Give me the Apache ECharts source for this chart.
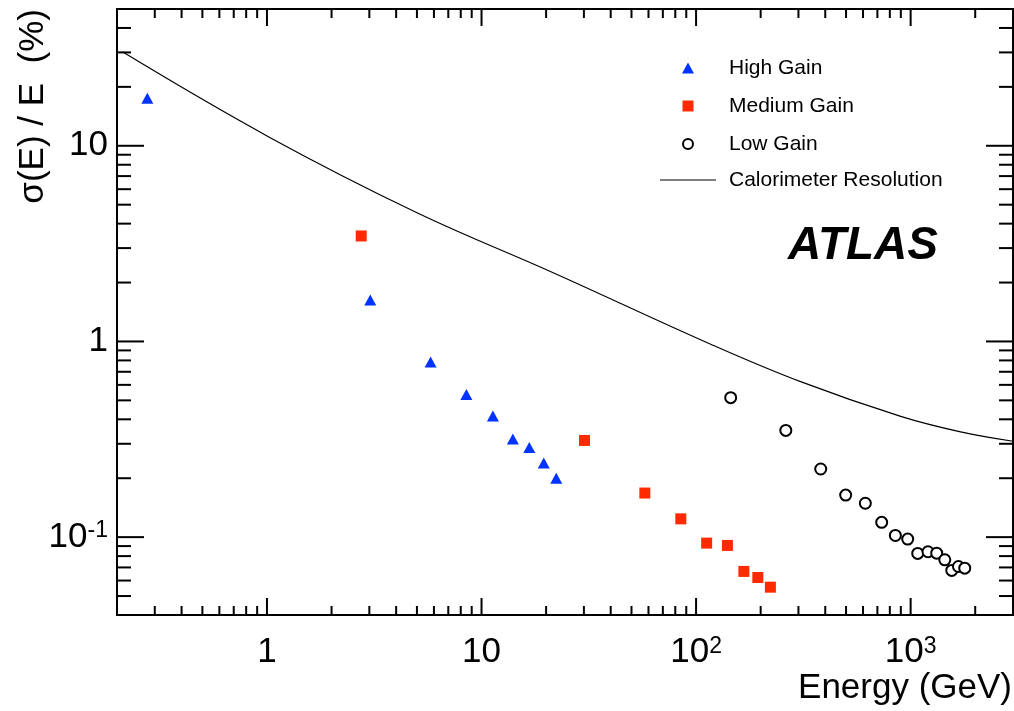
<!DOCTYPE html>
<html>
<head>
<meta charset="utf-8">
<script src="https://cdn.jsdelivr.net/npm/echarts@6/dist/echarts.min.js"></script>
<style>html,body{margin:0;padding:0;background:#fff}#c{width:1014px;height:711px}</style>
</head>
<body>
<div id="c"></div>
<script>
// ---- data ----
const highGainE   = [0.277, 3.03, 5.79, 8.5, 11.3, 14.0, 16.7, 19.5, 22.3];
const highGainRes = [17.5, 1.63, 0.786, 0.535, 0.416, 0.317, 0.287, 0.239, 0.200];

const mediumGainE   = [2.75, 30.2, 57.7, 84.9, 112, 140, 167, 194, 222];
const mediumGainRes = [3.46, 0.312, 0.168, 0.124, 0.0932, 0.0907, 0.0668, 0.0622, 0.0555];

const lowGainE   = [145, 262, 381, 498, 615, 733, 849, 969, 1079, 1205, 1323, 1443, 1555, 1671, 1787];
const lowGainRes = [0.516, 0.351, 0.223, 0.164, 0.149, 0.119, 0.102, 0.0977, 0.0826, 0.0842, 0.0828, 0.0766, 0.0676, 0.0708, 0.0694];

const caloE   = [0.212, 1.02, 4.92, 22.1, 117, 307, 899, 1710, 3000];
const caloRes = [30.2, 11.1, 4.59, 2.22, 0.968, 0.623, 0.414, 0.345, 0.309];

const X_MIN = 0.2, X_MAX = 3000, Y_MIN = 0.04, Y_MAX = 50;
const xMajorTicks = [1, 10, 100, 1000];
const xMinorTicks = [0.3,0.4,0.5,0.6,0.7,0.8,0.9, 2,3,4,5,6,7,8,9, 20,30,40,50,60,70,80,90,
                     200,300,400,500,600,700,800,900, 2000];
const yMajorTicks = [0.1, 1, 10];
const yMinorTicks = [0.05,0.06,0.07,0.08,0.09, 0.2,0.3,0.4,0.5,0.6,0.7,0.8,0.9,
                     2,3,4,5,6,7,8,9, 20,30,40];
const xTickLabels = {1: '1', 10: '10', 100: '10{sup|2}', 1000: '10{sup|3}'};
const yTickLabels = {0.1: '10{sup|-1}', 1: '1', 10: '10'};
const legendNames = ['High Gain', 'Medium Gain', 'Low Gain', 'Calorimeter Resolution'];

const FONT = '"Liberation Sans", Arial, Helvetica, sans-serif';
const zip = (a, b) => a.map((v, i) => [v, b[i]]);
const keyOf = v => String(parseFloat(Number(v).toPrecision(6)));

const chart = echarts.init(document.getElementById('c'), null, {renderer: 'canvas'});

const richLabel = {
  fontFamily: FONT, fontSize: 35, color: '#000', lineHeight: 35,
  rich: { sup: { fontFamily: FONT, fontSize: 23, lineHeight: 23, verticalAlign: 'top', color: '#000' } }
};

function tickRender(dir) {
  return function (params, api) {
    const major = api.value(2);
    const st = {stroke: '#000', lineWidth: 2};
    if (dir === 'x') {
      const v = api.value(0);
      const b = api.coord([v, Y_MIN]), t = api.coord([v, Y_MAX]);
      const len = major ? 17 : 9;
      return {type: 'group', children: [
        {type: 'line', shape: {x1: b[0], y1: b[1], x2: b[0], y2: b[1] - len}, style: st},
        {type: 'line', shape: {x1: t[0], y1: t[1], x2: t[0], y2: t[1] + len}, style: st}
      ]};
    } else {
      const v = api.value(1);
      const l = api.coord([X_MIN, v]), r = api.coord([X_MAX, v]);
      const len = major ? 27 : 14;
      return {type: 'group', children: [
        {type: 'line', shape: {x1: l[0], y1: l[1], x2: l[0] + len, y2: l[1]}, style: st},
        {type: 'line', shape: {x1: r[0], y1: r[1], x2: r[0] - len, y2: r[1]}, style: st}
      ]};
    }
  };
}

const LX = 688, LT = 729;
const legendY = [68, 106, 144, 180];

chart.setOption({
  animation: false,
  backgroundColor: '#fff',
  grid: {left: 117, top: 9, right: 1, bottom: 96, show: true, borderColor: '#000', borderWidth: 2, backgroundColor: 'transparent'},
  xAxis: {
    type: 'log', logBase: 10, min: X_MIN, max: X_MAX,
    axisLine: {show: false}, axisTick: {show: false}, splitLine: {show: false}, minorTick: {show: false},
    axisLabel: Object.assign({
      margin: 20, showMinLabel: false, showMaxLabel: false,
      formatter: v => xTickLabels[keyOf(v)] || ''
    }, richLabel)
  },
  yAxis: {
    type: 'log', logBase: 10, min: Y_MIN, max: Y_MAX,
    axisLine: {show: false}, axisTick: {show: false}, splitLine: {show: false}, minorTick: {show: false},
    axisLabel: Object.assign({
      margin: 9, align: 'right', showMinLabel: false, showMaxLabel: false,
      formatter: v => yTickLabels[keyOf(v)] || ''
    }, richLabel)
  },
  series: [
    {
      name: legendNames[3], type: 'line', data: zip(caloE, caloRes), showSymbol: false, smooth: 0.4,
      lineStyle: {color: '#000', width: 1.2}, z: 2, clip: true
    },
    {
      name: legendNames[0], type: 'scatter', data: zip(highGainE, highGainRes), symbol: 'triangle', symbolSize: [12, 11],
      itemStyle: {color: '#0033ff', opacity: 1}, z: 3
    },
    {
      name: legendNames[1], type: 'scatter', data: zip(mediumGainE, mediumGainRes), symbol: 'rect', symbolSize: 11,
      itemStyle: {color: '#ff2a00', opacity: 1}, z: 3
    },
    {
      name: legendNames[2], type: 'scatter', data: zip(lowGainE, lowGainRes), symbol: 'circle', symbolSize: 11,
      itemStyle: {color: '#fff', borderColor: '#000', borderWidth: 2, opacity: 1}, z: 3
    },
    {
      type: 'custom', silent: true, clip: false, z: 5,
      data: xMajorTicks.map(v => [v, Y_MIN, 1]).concat(xMinorTicks.map(v => [v, Y_MIN, 0])),
      renderItem: tickRender('x')
    },
    {
      type: 'custom', silent: true, clip: false, z: 5,
      data: yMajorTicks.map(v => [X_MIN, v, 1]).concat(yMinorTicks.map(v => [X_MIN, v, 0])),
      renderItem: tickRender('y')
    }
  ],
  graphic: [
    {type: 'text', x: 1012, y: 688, style: {text: 'Energy (GeV)', font: '35px ' + FONT, fill: '#000', align: 'right', verticalAlign: 'middle'}},
    {type: 'text', x: 33, y: 9, rotation: Math.PI / 2, style: {text: 'σ(E) / E  (%)', font: '35px ' + FONT, fill: '#000', align: 'right', verticalAlign: 'middle'}},
    {type: 'text', x: 938, y: 246, style: {text: 'ATLAS', font: 'italic bold 46px ' + FONT, fill: '#000', align: 'right', verticalAlign: 'middle'}},
    {type: 'polygon', shape: {points: [[LX, legendY[0] - 5.5], [LX + 6, legendY[0] + 5.5], [LX - 6, legendY[0] + 5.5]]}, style: {fill: '#0033ff'}},
    {type: 'rect', shape: {x: LX - 5.5, y: legendY[1] - 5.5, width: 11, height: 11}, style: {fill: '#ff2a00'}},
    {type: 'circle', shape: {cx: LX, cy: legendY[2], r: 5}, style: {fill: '#fff', stroke: '#000', lineWidth: 2}},
    {type: 'line', shape: {x1: 660, y1: legendY[3], x2: 716, y2: legendY[3]}, style: {stroke: '#000', lineWidth: 1.2}},
    {type: 'text', x: LT, y: legendY[0], style: {text: legendNames[0], font: '21px ' + FONT, fill: '#000', verticalAlign: 'middle'}},
    {type: 'text', x: LT, y: legendY[1], style: {text: legendNames[1], font: '21px ' + FONT, fill: '#000', verticalAlign: 'middle'}},
    {type: 'text', x: LT, y: legendY[2], style: {text: legendNames[2], font: '21px ' + FONT, fill: '#000', verticalAlign: 'middle'}},
    {type: 'text', x: LT, y: legendY[3], style: {text: legendNames[3], font: '21px ' + FONT, fill: '#000', verticalAlign: 'middle'}}
  ]
});
</script>
</body>
</html>
